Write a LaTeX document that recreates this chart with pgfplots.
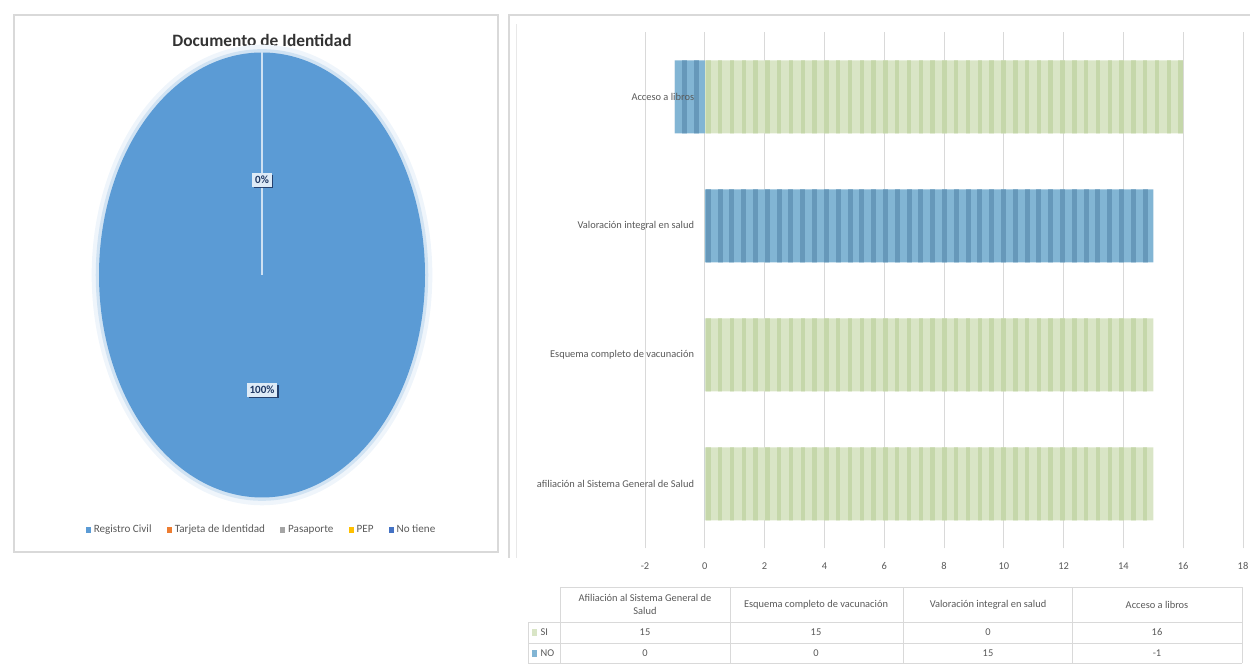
\documentclass[border=0pt]{standalone}
\usepackage{pgfplots}
\pgfplotsset{compat=1.18}
\usepackage{pgfplotstable}
\usepackage{fontspec}
\setmainfont{Carlito}
\usetikzlibrary{patterns.meta,shadows}
\definecolor{rc}{HTML}{5B9BD5}
\definecolor{ti}{HTML}{ED7D31}
\definecolor{pas}{HTML}{A5A5A5}
\definecolor{pep}{HTML}{FFC000}
\definecolor{nt}{HTML}{4472C4}
\definecolor{grn}{HTML}{D9E5C6}
\definecolor{grnS}{HTML}{C5D7AA}
\definecolor{blu}{HTML}{82B5D4}
\definecolor{bluS}{HTML}{6698BA}
\definecolor{txt}{HTML}{595959}
\definecolor{frm}{HTML}{D9D9D9}
\definecolor{lbl}{HTML}{1F3864}
\newlength\pxu
\setlength\pxu{0.72pt}

\pgfplotsset{
  barframe/.style={at={(645\pxu,115.5\pxu)}, anchor=south west, width=598\pxu, height=516\pxu,
    scale only axis,
    xmin=-2, xmax=18, ymin=-0.5, ymax=3.5,
    xtick={-2,0,...,18}, ytick={0,1,2,3},
    axis line style={draw=none}, major tick length=0pt,
    ticklabel style={font=\fontsize{7.5}{9}\selectfont, text=txt},
    /pgf/number format/assume math mode=true},
}

% bar chart data: cat index (0 = bottom), SI, NO
\pgfplotstableread{
cat si no
0 15 0
1 15 0
2 0 15
3 16 -1
}\bars

% pie data (percent)
\def\pRC{100}

\begin{document}
\begin{tikzpicture}[x=0.72pt,y=0.72pt]
\path[use as bounding box] (0,0) rectangle (1250,664);
% frames
\draw[frm, line width=0.8pt] (14,112) rectangle (498,649);
\draw[frm, line width=0.8pt] (509,106) -- (509,649) -- (1250,649);
\draw[frm!60, line width=0.6pt] (516,106) -- (516,640);

% title
\node[font=\fontsize{12.5}{14}\selectfont\bfseries, text=black!80] at (262,624) {Documento de Identidad};

% ---------------- pie -----------------
\begin{axis}[at={(262\pxu,389\pxu)}, anchor=center, width=326\pxu, height=445\pxu,
  scale only axis, hide axis, clip=false,
  xmin=-1, xmax=1, ymin=-1, ymax=1,
  legend style={at={(0.5,-0.073)}, anchor=center, draw=none, fill=none,
    legend columns=5, font=\fontsize{8}{9}\selectfont, text=txt,
    /tikz/every even column/.append style={column sep=9pt},
    legend cell align=left},
  legend image code/.code={\fill[#1, draw=none] (0cm,-0.075cm) rectangle (0.13cm,0.075cm);},
]
\addlegendimage{fill=rc}\addlegendentry{Registro Civil}
\addlegendimage{fill=ti}\addlegendentry{Tarjeta de Identidad}
\addlegendimage{fill=pas}\addlegendentry{Pasaporte}
\addlegendimage{fill=pep}\addlegendentry{PEP}
\addlegendimage{fill=nt}\addlegendentry{No tiene}
% soft glow
\fill[rc!10] plot[domain=0:360, samples=181, smooth] ({1.045*cos(\x)},{1.035*sin(\x)}) -- cycle;
\fill[rc!28] plot[domain=0:360, samples=181, smooth] ({1.02*cos(\x)},{1.015*sin(\x)}) -- cycle;
% slice Registro Civil: from 90 deg clockwise over 3.6*value degrees
\fill[rc] (0,0) -- plot[domain=90:{90-3.6*\pRC}, samples=181, smooth] ({cos(\x)},{sin(\x)}) -- cycle;
% zero slices (Tarjeta, Pasaporte, PEP, No tiene) collapse on the 90 deg border
\draw[white!70!rc, line width=1.6pt] (0,0) -- (0,1);
\node[fill=white!80!rc, inner sep=2pt, drop shadow={shadow xshift=1.3pt, shadow yshift=-1.3pt, fill=lbl, opacity=0.9},
  font=\fontsize{8}{9}\selectfont\bfseries, text=lbl] at (0,0.427) {0\%};
\node[fill=white!80!rc, inner sep=2pt, drop shadow={shadow xshift=1.3pt, shadow yshift=-1.3pt, fill=lbl, opacity=0.9},
  font=\fontsize{8}{9}\selectfont\bfseries, text=lbl] at (0,-0.517) {100\%};
\end{axis}

% ---------------- bars -----------------
\begin{axis}[barframe, yticklabels={},
  xmajorgrids, grid style={frm, line width=0.7pt},
  xticklabel style={yshift=-9\pxu},
]
\addplot[xbar, bar shift=0pt, bar width=73\pxu, draw=none, fill=grn,
  postaction={pattern={Lines[angle=90,distance=8.5pt,line width=3.2pt]}, pattern color=grnS}]
  table[x=si, y=cat]{\bars};
\addplot[xbar, bar shift=0pt, bar width=73\pxu, draw=none, fill=blu,
  postaction={pattern={Lines[angle=90,distance=8.5pt,line width=3.6pt]}, pattern color=bluS}]
  table[x=no, y=cat]{\bars};
\end{axis}
% category labels drawn over the bars (same frame)
\begin{axis}[barframe, xticklabels={},
  yticklabels={afiliación al Sistema General de Salud, Esquema completo de vacunación, Valoración integral en salud, Acceso a libros},
  yticklabel style={anchor=east, xshift=54\pxu},
]
\end{axis}

% ---------------- data table -----------------
\begin{scope}[frm, line width=0.6pt]
\draw (560,77) -- (1242,77);
\draw (528,42) -- (1242,42);
\draw (528,21) -- (1242,21);
\draw (528,0.5) -- (1242,0.5);
\draw (528,0.5) -- (528,42);
\foreach \xx in {560,730,903,1072,1242} \draw (\xx,0.5) -- (\xx,77);
\end{scope}
\begin{scope}[every node/.style={font=\fontsize{7.5}{9}\selectfont, text=txt}]
\node[align=center] at (645,59.5) {Afiliación al Sistema General de\\Salud};
\node at (816,59.5) {Esquema completo de vacunación};
\node at (988,59.5) {Valoración integral en salud};
\node at (1157,59.5) {Acceso a libros};
\fill[grn] (532,28) rectangle (537,35);
\node[anchor=west, inner sep=1pt] at (539,31.5) {SI};
\fill[blu] (532,7) rectangle (537,14);
\node[anchor=west, inner sep=1pt] at (539,10.5) {NO};
\foreach \r/\cx in {0/645,1/816,2/988,3/1157}{
  \pgfplotstablegetelem{\r}{si}\of\bars
  \node at (\cx,31.5) {\pgfplotsretval};
  \pgfplotstablegetelem{\r}{no}\of\bars
  \node at (\cx,10.5) {\pgfplotsretval};
}
\end{scope}
\end{tikzpicture}
\end{document}
